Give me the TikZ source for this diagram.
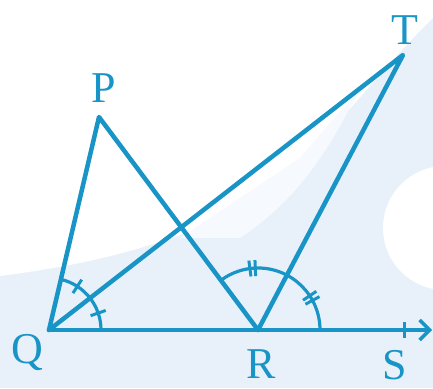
\documentclass[tikz,border=0pt]{standalone}
\usepackage{fontspec}
\setmainfont{Liberation Serif}
\usetikzlibrary{arrows.meta}
\definecolor{geo}{HTML}{1895C6}
\definecolor{bgblue}{HTML}{E8F1FA}
\begin{document}
\begin{tikzpicture}[x=1pt,y=1pt,
  seg/.style={draw=geo,line width=4.5pt,line cap=round,line join=round},
  arcline/.style={draw=geo,line width=3.2pt},
  tickmark/.style={draw=geo,line width=3pt},
  lbl/.style={text=geo,font=\fontsize{44}{44}\selectfont,inner sep=0pt}]
\useasboundingbox (0,0) rectangle (433,388);
% background
\fill[bgblue] (0,0) rectangle (433,388);
\fill[white] (0,388) -- (433,388) -- (433,370) .. controls (360,300) and (300,200) .. (200,160) .. controls (120,130) and (60,120) .. (0,112) -- cycle;
\fill[white!60!bgblue] (180,150) -- (240,150) .. controls (300,190) and (330,240) .. (360,300) -- (300,230) -- cycle;
\fill[white] (445,160) circle (62);
% points
\coordinate (Q) at (49,58);
\coordinate (P) at (99,271);
\coordinate (R) at (258,58);
\coordinate (T) at (403,333);
\coordinate (S) at (432,58);
% lines
\draw[seg] (Q) -- (P) -- (R);
\draw[seg] (Q) -- (T) -- (R);
\draw[seg,-{Straight Barb[length=10pt,width=20pt,line width=3.5pt]}] (Q) -- (S);
\draw[tickmark] (404,50) -- (404,66);
% angle arcs at Q
\draw[arcline] ([shift={(0:52)}]Q) arc[start angle=0,end angle=76.5,radius=52];
\draw[tickmark] ([shift={(19:44)}]Q) -- ([shift={(19:60)}]Q);
\draw[tickmark] ([shift={(57:44)}]Q) -- ([shift={(57:60)}]Q);
% angle arcs at R
\draw[arcline] ([shift={(0:62)}]R) arc[start angle=0,end angle=126.7,radius=62];
\foreach \a in {31,95}{
  \draw[tickmark] ([shift={(\a-2.5:54)}]R) -- ([shift={(\a-2.5:70)}]R);
  \draw[tickmark] ([shift={(\a+2.5:54)}]R) -- ([shift={(\a+2.5:70)}]R);
}
% labels
\node[lbl] (lP) at (104,300) {P};
\node[lbl] (lT) at (405,358) {T};
\node[lbl] (lQ) at (27,36) {Q};
\node[lbl] (lR) at (261,24) {R};
\node[lbl] (lS) at (395,23) {S};
\end{tikzpicture}
\end{document}
